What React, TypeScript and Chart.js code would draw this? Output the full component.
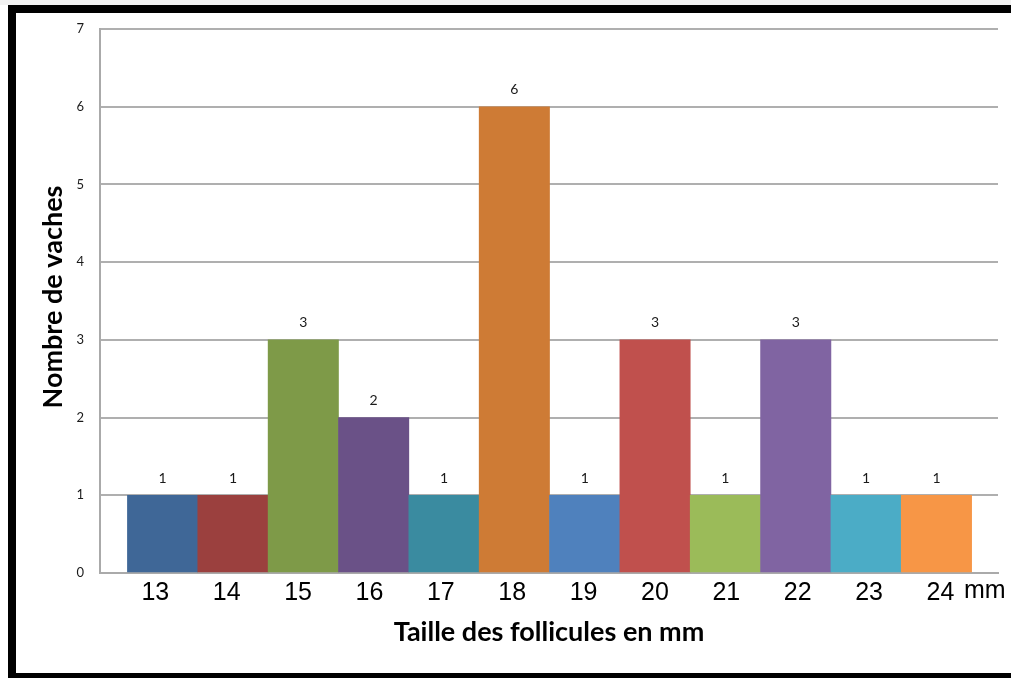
import React, { useEffect, useRef } from "react";
import { Chart, registerables } from "chart.js";

Chart.register(...registerables);

// Follicle size classes (mm) and number of cows in each class
const follicleSizes = [13, 14, 15, 16, 17, 18, 19, 20, 21, 22, 23, 24];
const cowCounts = [1, 1, 3, 2, 1, 6, 1, 3, 1, 3, 1, 1];
const barColors = [
  "#3F6797",
  "#9B403E",
  "#7E9A48",
  "#6A5187",
  "#3A8BA0",
  "#CE7B35",
  "#4F81BD",
  "#C0504D",
  "#9BBB59",
  "#8064A2",
  "#4BACC6",
  "#F79646",
];
const yTickValues = [0, 1, 2, 3, 4, 5, 6, 7];
const xTitle = "Taille des follicules en mm";
const yTitle = "Nombre de vaches";
const unitLabel = "mm";

const W = 1011;
const H = 678;

const annotations = {
  id: "annotations",
  afterDatasetsDraw(chart: any) {
    const ctx = chart.ctx as CanvasRenderingContext2D;
    const meta = chart.getDatasetMeta(0);
    ctx.save();
    ctx.fillStyle = "#1a1a1a";
    ctx.font = "14px Lato, 'Open Sans', sans-serif";
    ctx.textAlign = "center";
    ctx.textBaseline = "middle";
    meta.data.forEach((bar: any, i: number) => {
      ctx.fillText(String(cowCounts[i]), bar.x, bar.y - 17);
    });

    // unit after the last size label
    ctx.font = "25px 'Liberation Sans', Arial, sans-serif";
    ctx.fillStyle = "#000";
    ctx.textAlign = "left";
    ctx.fillText(unitLabel, 964, 591);

    // axis titles
    ctx.font = "bold 27px Lato, 'Open Sans', sans-serif";
    ctx.textAlign = "center";
    ctx.fillText(xTitle, 549, 632);
    ctx.translate(53, 297);
    ctx.rotate(-Math.PI / 2);
    ctx.fillText(yTitle, 0, 0);
    ctx.restore();
  },
};

export default function App() {
  const canvasRef = useRef<HTMLCanvasElement | null>(null);

  useEffect(() => {
    if (!canvasRef.current) return;
    const chart = new Chart(canvasRef.current, {
      type: "bar",
      data: {
        datasets: [
          {
            data: follicleSizes.map((s, i) => ({ x: s, y: cowCounts[i] })),
            backgroundColor: barColors,
            borderWidth: 0,
            barPercentage: 1,
            categoryPercentage: 1,
            xAxisID: "x",
            yAxisID: "y",
          },
        ],
      },
      options: {
        responsive: false,
        animation: false,
        devicePixelRatio: 1,
        layout: { padding: { top: 29, right: 13, left: 0, bottom: 0 } },
        plugins: {
          legend: { display: false },
          tooltip: { enabled: false },
        },
        scales: {
          x: {
            type: "linear",
            display: false,
            offset: false,
            min: 12.11,
            max: 24.875,
            grid: { offset: false },
          },
          xl: {
            type: "linear",
            position: "bottom",
            offset: false,
            min: 12.225,
            max: 24.806,
            afterBuildTicks: (axis: any) => {
              axis.ticks = follicleSizes.map((v) => ({ value: v }));
            },
            afterFit: (axis: any) => {
              axis.height = 105;
            },
            grid: { display: false, drawTicks: false, offset: false },
            border: { display: true, color: "#AAAAAA", width: 2 },
            ticks: {
              padding: 5,
              color: "#000",
              font: { family: "'Liberation Sans', Arial, sans-serif", size: 25 },
              maxRotation: 0,
              autoSkip: false,
            },
          },
          y: {
            min: 0,
            max: 7,
            afterBuildTicks: (axis: any) => {
              axis.ticks = yTickValues.map((v) => ({ value: v }));
            },
            afterFit: (axis: any) => {
              axis.width = 100;
            },
            grid: { color: "#AFAFAF", lineWidth: 2, drawTicks: false },
            border: { display: true, color: "#AAAAAA", width: 2 },
            ticks: {
              padding: 16,
              color: "#1a1a1a",
              font: { family: "Lato, 'Open Sans', sans-serif", size: 13 },
            },
          },
        },
      },
      plugins: [annotations],
    });
    return () => chart.destroy();
  }, []);

  return (
    <div
      style={{
        position: "fixed",
        left: 0,
        top: 0,
        width: W,
        height: H,
        background: "#fff",
        overflow: "hidden",
      }}
    >
      <canvas
        ref={canvasRef}
        width={W}
        height={H}
        style={{ position: "absolute", left: 0, top: 0, width: W, height: H }}
      />
      <div style={{ position: "absolute", left: 0, top: 0, width: W, height: 5, background: "#f2f2f2" }} />
      <div style={{ position: "absolute", left: 8, top: 5, width: W - 8, height: 8, background: "#000" }} />
      <div style={{ position: "absolute", left: 8, top: 5, width: 8, height: H - 5, background: "#000" }} />
      <div style={{ position: "absolute", left: 8, top: 673, width: W - 8, height: 5, background: "#000" }} />
    </div>
  );
}
